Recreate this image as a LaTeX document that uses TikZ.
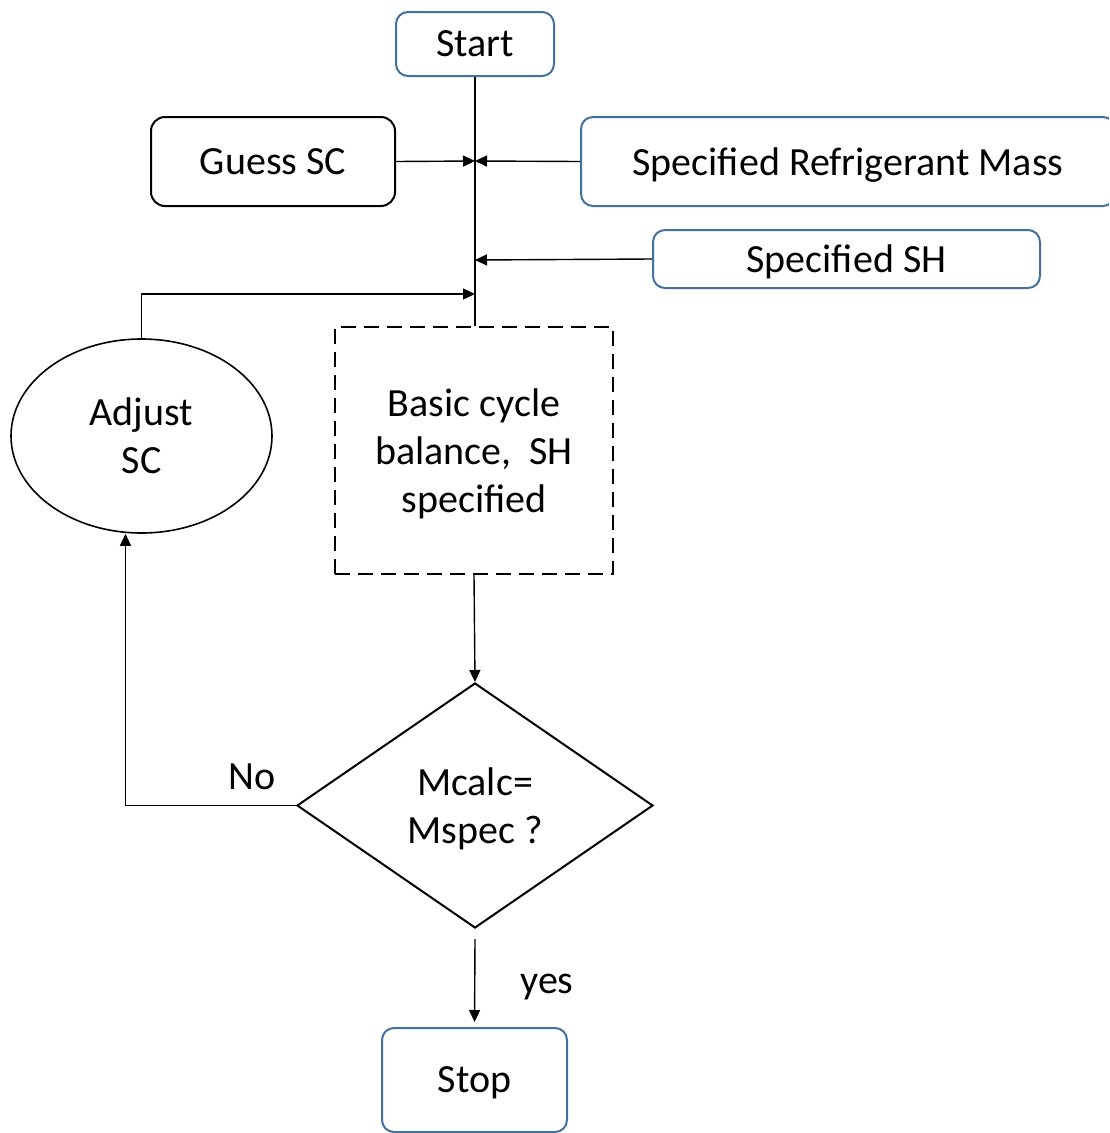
\documentclass[tikz,border=0pt]{standalone}
\usepackage{fontspec}
\setmainfont{Carlito}
\usetikzlibrary{arrows.meta,shapes.geometric}
\definecolor{boxblue}{RGB}{65,113,156}
\begin{document}
\begin{tikzpicture}[x=1pt,y=-1pt,
  every node/.style={font=\fontsize{40}{48}\selectfont, align=center, inner sep=0pt, text depth=0pt},
  bluebox/.style={draw=boxblue, line width=2pt, rounded corners=12pt},
  blackbox/.style={draw=black, line width=2pt, rounded corners=14pt},
  dashbox/.style={draw=black, line width=2pt, dash pattern=on 15pt off 8pt},
  oval/.style={draw=black, line width=1.6pt, ellipse},
  decide/.style={draw=black, line width=2pt, diamond},
  link/.style={draw=black, line width=1.4pt},
  arr/.style={link, -{Triangle[length=12pt,width=11pt]}}]
\useasboundingbox (0,0) rectangle (1109,1133);
\clip (0,0) rectangle (1109,1133);

% boxes
\node[bluebox, minimum width=158pt, minimum height=64pt] (start) at (475,44) {Start};
\node[blackbox, minimum width=244pt, minimum height=89pt] (guess) at (273,161.5) {Guess SC};
\node[bluebox, minimum width=534pt, minimum height=89pt] (mass) at (848,161.5) {Specified Refrigerant Mass};
\node[bluebox, minimum width=387pt, minimum height=58pt] (sh) at (846.5,259) {Specified SH};
\node[oval, minimum width=261pt, minimum height=194pt] (adjust) at (141.5,436) {Adjust\\SC};
\node[dashbox, minimum width=278pt, minimum height=247pt] (basic) at (474,450.5) {Basic cycle\\balance,\ \ SH\\specified};
\node[decide, minimum width=356pt, minimum height=245pt] (decision) at (475,805.5) {Mcalc=\\Mspec ?};
\node[bluebox, minimum width=185pt, minimum height=104pt] (stop) at (474.5,1080) {Stop};

% labels
\node (no) at (252,777) {No};
\node (yes) at (547,984) {yes};

% junction points on the main trunk
\coordinate (j1) at (475,161);
\coordinate (j2) at (475,260);
\coordinate (j3) at (475,294);

% connectors
\draw[link] (start.south) -- (start.south |- basic.north);
\draw[arr] (guess.east) -- (j1);
\draw[arr] (mass.west) -- (j1);
\draw[arr] (sh.west) -- (j2);
\draw[arr] (adjust.north) |- (j3);
\draw[arr] (basic.south) -- (decision.north);
\draw[arr] (decision.west) -| ([xshift=-16pt]adjust.south);
\draw[arr, shorten >=5pt] ([yshift=-10pt]decision.south) -- (stop.north);
\end{tikzpicture}
\end{document}
